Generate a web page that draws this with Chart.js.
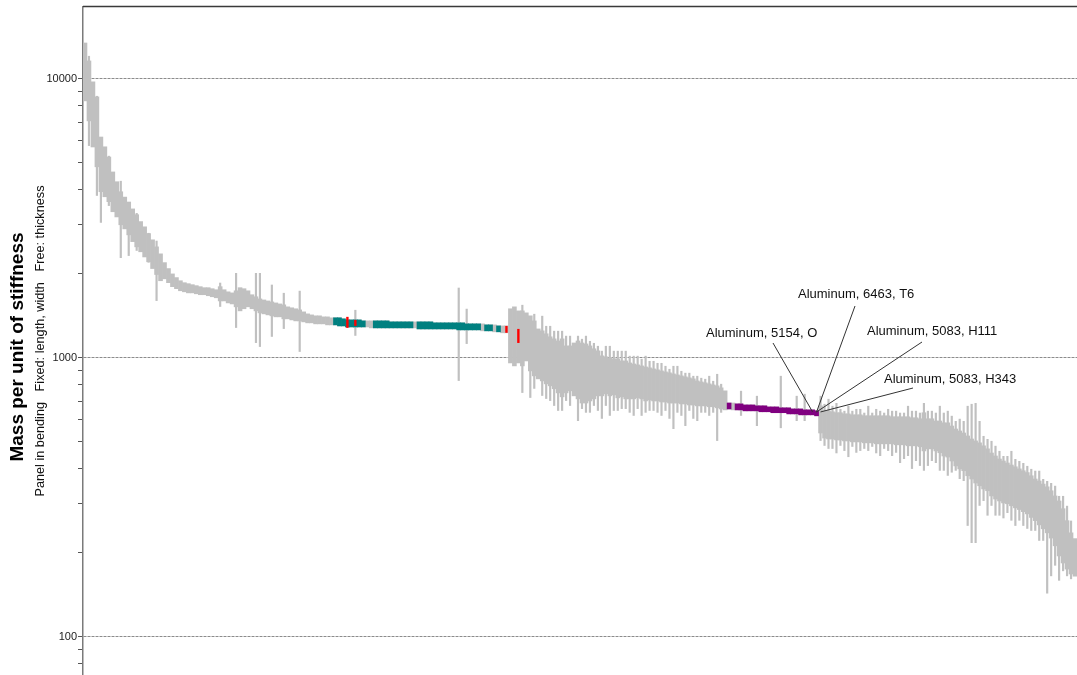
<!DOCTYPE html>
<html><head><meta charset="utf-8">
<script src="https://cdn.jsdelivr.net/npm/chart.js@4.4.1/dist/chart.umd.min.js"></script>
<style>html,body{margin:0;padding:0;background:#fff;}canvas{display:block;}</style>
</head><body>
<canvas id="c" width="1077" height="675"></canvas>
<script>
// Upper value of each material's range (sorted order along x)
const hi = [
13450,11600,9760,8620,6190,5710,5250,4640,4280,3940,
3770,3620,3420,3260,3080,2950,2790,2650,2500,2360,
2195,2090,2000,1940,1890,1860,1845,1830,1815,1800,
1785,1785,1770,1755,1800,1755,1725,1710,1740,1785,
1770,1740,1684,1656,1627,1613,1600,1587,1574,1561,
1549,1524,1512,1500,1486,1462,1438,1426,1415,1415,
1403,1403,1392,1392,1392,1380,1368,1368,1368,1368,
1357,1357,1357,1357,1357,1357,1357,1346,1346,1346,
1346,1346,1346,1346,1346,1346,1346,1346,1335,1335,
1335,1335,1335,1335,1335,1335,1324,1324,1324,1324,
1324,1313,1313,1313,1302,1302,1302,1500,1524,1474,
1474,1450,1415,1357,1270,1250,1220,1190,1170,1150,
1170,1104,1104,1131,1150,1131,1122,1104,1078,1060,
1017,1009,1000,992,992,975,975,959,951,944,
936,928,921,913,906,898,891,884,876,869,
862,855,848,841,827,820,814,807,800,794,
781,762,689,689,684,684,678,678,678,673,
673,673,667,667,667,662,662,662,656,656,
656,651,651,651,646,673,646,646,641,636,
636,630,630,625,625,625,620,620,620,620,
620,620,620,615,615,615,615,615,610,610,
605,636,605,605,594,594,585,585,570,556,
547,538,525,512,504,496,484,472,456,445,
434,427,420,413,407,400,394,388,378,368,
362,353,345,334,320,307,288,261,236,225
];
// Lower value of each material's range
const lo = [
8340,7070,5700,4840,3940,3780,3630,3340,3200,3000,
2900,2760,2610,2500,2400,2300,2210,2090,1990,1890,
1920,1860,1800,1770,1740,1725,1710,1710,1697,1684,
1684,1670,1656,1642,1600,1600,1574,1561,1524,1474,
1500,1524,1500,1474,1450,1438,1426,1415,1403,1403,
1380,1380,1368,1357,1357,1346,1335,1335,1324,1324,
1324,1313,1313,1313,1302,1302,1291,1291,1291,1291,
1291,1291,1281,1281,1281,1281,1281,1281,1281,1281,
1281,1281,1281,1281,1270,1270,1270,1270,1270,1270,
1270,1270,1270,1270,1260,1260,1260,1260,1260,1260,
1250,1250,1250,1240,1240,1230,1230,959,936,959,
936,975,898,862,841,827,807,794,775,749,
725,749,762,731,713,689,689,701,713,731,
731,743,731,737,719,725,713,713,713,719,
713,701,707,701,701,695,695,689,689,689,
684,684,678,678,673,673,673,668,668,662,
656,651,656,651,651,651,646,646,646,646,
641,641,641,636,636,636,636,630,630,630,
625,625,625,625,620,538,516,512,512,508,
508,504,504,500,500,500,496,496,496,492,
492,492,492,492,488,488,488,484,484,484,
480,464,472,472,464,457,445,441,427,410,
400,394,378,368,356,348,339,334,320,312,
307,302,300,295,290,286,281,276,268,261,
252,244,236,226,212,195,184,175,168,165
];
// Materials with unusually wide ranges (thin spikes)
const spikeIdx = [1,3,4,6,9,11,13,16,18,34,38,43,44,47,50,54,68,94,96,110,112,113,116,118,120,122,124,126,129,130,132,134,136,138,141,143,145,148,151,154,157,159,165,169,175,179,181,185,187,189,192,195,199,203,205,208,211,213,216,218,220,222,223,224,225,227,229,231,234,238,240,242,243,245,
115,117,119,121,125,127,128,131,133,135,137,139,140,142,144,146,147,149,150,152,153,155,156,158,160,
186,188,190,191,193,194,196,197,198,200,201,202,204,206,207,209,210,212,214,215,217,219,221,226,228,230,232,233,235,236,237,239,241,244,246,247,248];
const spikeHi = [12090,8690,5520,5300,4310,3505,3305,2805,2630,1860,2015,2015,2015,1830,1710,1740,1486,1785,1500,1549,1380,1438,1302,1250,1250,1200,1200,1200,1104,1060,1104,1060,1060,1017,1017,975,959,936,884,862,862,876,762,731,862,731,743,731,713,689,673,656,656,646,636,646,689,646,636,620,605,673,684,689,594,512,484,445,434,400,394,362,356,320,
1415,1302,1250,1200,1170,1150,1131,1104,1060,1060,1017,1017,992,975,959,936,913,936,898,884,862,848,841,827,807,
684,673,656,646,646,656,636,673,636,646,636,656,646,636,673,646,636,646,636,673,646,594,594,525,504,464,445,464,427,420,410,394,368,348,320,295,261];
const spikeLo = [5750,3810,3050,3505,2280,2320,2420,2195,1600,1524,1281,1131,1095,1190,1270,1051,1200,827,1122,749,719,775,713,673,646,673,594,636,646,605,620,646,656,620,636,646,620,556,570,594,620,504,620,570,560,594,594,504,472,455,441,464,455,445,420,400,394,427,394,388,368,250,217,217,295,272,272,266,250,240,221,143,165,159,
731,701,646,701,656,636,673,673,646,656,636,656,620,646,636,646,605,636,620,646,605,636,636,636,636,
484,472,484,464,480,457,472,464,480,445,472,464,457,434,445,427,410,410,420,394,378,394,362,307,295,272,278,261,261,250,244,240,221,180,172,165,161];
// Highlighted material groups
const tealIdx = [63,64,65,66,67,68,69,70,73,74,75,76,77,78,79,80,81,82,84,85,86,87,88,89,90,91,92,93,94,95,96,97,98,99,101,102,104];
const purpleIdx = [162,164,165,166,167,168,169,170,171,172,173,174,175,176,177,178,179,180,181,182,183,184];
const redIdx = [66,68,106,109];
const redHi = [1403,1368,1302,1270];
const redLo = [1281,1302,1230,1131];
// Axis
const yTickValues = [80,90,100,200,300,400,500,600,700,800,900,1000,2000,3000,4000,5000,6000,7000,8000,9000,10000];
const yMajorTicks = [100,1000,10000];
const yMin = 73, yMax = 18100;
const yTitle = 'Mass per unit of stiffness';
const ySubtitle = 'Panel in bending   Fixed: length, width   Free: thickness';
const annoTexts = ['Aluminum, 6463, T6','Aluminum, 5154, O','Aluminum, 5083, H111','Aluminum, 5083, H343'];
const annoIdx = [184,183,184,185];
const annoValue = 640;

const labels = hi.map((_, i) => String(i));
const bandData = labels.map((_, i) => [lo[i], hi[i]]);
function pick(idxs){ return labels.map((_, i) => idxs.includes(i) ? [lo[i], hi[i]] : null); }
function sparse(idxs, his, los){ const a = labels.map(() => null); idxs.forEach((k, j) => { a[k] = [los[j], his[j]]; }); return a; }

const FONT = '"Liberation Sans", Arial, sans-serif';
const annoLayout = [
  {tx:798, ty:294, lx:855, ly:306},
  {tx:706, ty:333, lx:773, ly:343},
  {tx:867, ty:331, lx:922, ly:342},
  {tx:884, ty:379, lx:913, ly:388}
];

const decor = {
  id:'decor',
  afterDraw(chart){
    const {ctx, chartArea:a, scales:{x, y}} = chart;
    ctx.save();
    ctx.strokeStyle = '#3a3a3a'; ctx.lineWidth = 1.5;
    ctx.beginPath(); ctx.moveTo(a.left, a.top - 0.5); ctx.lineTo(a.right, a.top - 0.5); ctx.stroke();
    ctx.strokeStyle = '#333'; ctx.lineWidth = 1;
    ctx.fillStyle = '#111'; ctx.font = '13px ' + FONT; ctx.textAlign = 'left'; ctx.textBaseline = 'middle';
    annoTexts.forEach((t, k) => {
      const L = annoLayout[k];
      const px = x.getPixelForValue(annoIdx[k]);
      const py = y.getPixelForValue(annoValue);
      ctx.beginPath(); ctx.moveTo(L.lx, L.ly); ctx.lineTo(px, py); ctx.stroke();
      ctx.fillText(t, L.tx, L.ty);
    });
    ctx.restore();
    ctx.save();
    ctx.fillStyle = '#000'; ctx.textAlign = 'center'; ctx.textBaseline = 'middle';
    ctx.translate(18, 347); ctx.rotate(-Math.PI/2);
    ctx.font = 'bold 19px ' + FONT;
    ctx.fillText(yTitle, 0, 0);
    ctx.restore();
    ctx.save();
    ctx.fillStyle = '#111'; ctx.textAlign = 'center'; ctx.textBaseline = 'middle';
    ctx.translate(40, 341); ctx.rotate(-Math.PI/2);
    ctx.font = '12.7px ' + FONT;
    ctx.fillText(ySubtitle, 0, 0);
    ctx.restore();
  }
};

const common = {borderWidth:0, grouped:false, categoryPercentage:1};
new Chart(document.getElementById('c'), {
  type:'bar',
  data:{
    labels,
    datasets:[
      {...common, label:'red', data:sparse(redIdx, redHi, redLo), backgroundColor:'#ff0000', barPercentage:0.6, order:0},
      {...common, label:'teal', data:pick(tealIdx), backgroundColor:'#008080', barPercentage:1, order:1},
      {...common, label:'purple', data:pick(purpleIdx), backgroundColor:'#800080', barPercentage:1, order:1},
      {...common, label:'spikes', data:sparse(spikeIdx, spikeHi, spikeLo), backgroundColor:'#c0c0c0', barPercentage:0.55, order:2},
      {...common, label:'band', data:bandData, backgroundColor:'#c0c0c0', barPercentage:1, order:3}
    ]
  },
  options:{
    responsive:false, animation:false, devicePixelRatio:1,
    layout:{padding:{top:7, left:0, right:0, bottom:0}},
    plugins:{legend:{display:false}, tooltip:{enabled:false}},
    scales:{
      x:{display:false, offset:true},
      y:{
        type:'logarithmic', min:yMin, max:yMax,
        afterBuildTicks(scale){ scale.ticks = yTickValues.map(v => ({value:v, major:yMajorTicks.includes(v)})); },
        afterFit(scale){ scale.width = 83; scale.paddingTop = 0; scale.paddingBottom = 0; },
        ticks:{autoSkip:false, padding:1, color:'#222', font:{size:11, family:FONT},
          callback:(v) => yMajorTicks.includes(v) ? String(v) : ''},
        grid:{
          color:(c) => (c.tick && yMajorTicks.includes(c.tick.value)) ? '#8c8c8c' : 'rgba(0,0,0,0)',
          tickColor:'#555', tickLength:5, lineWidth:1
        },
        border:{display:true, color:'#7a7a7a', width:1.5, dash:[3,1]}
      }
    }
  },
  plugins:[decor]
});
</script>
</body></html>
